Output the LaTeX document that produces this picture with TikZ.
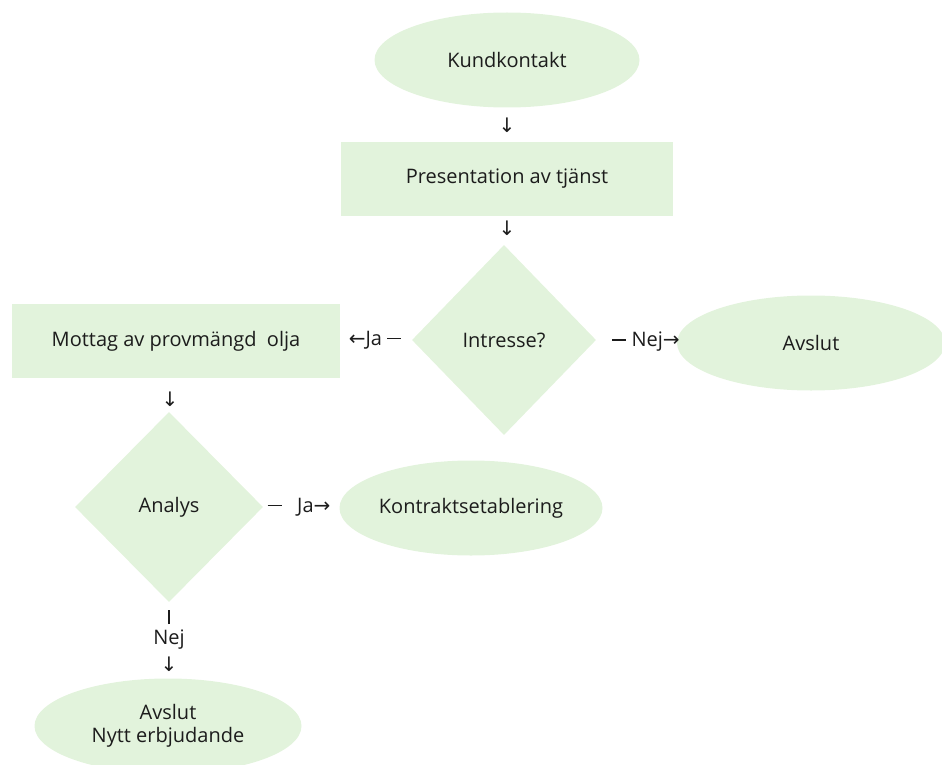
\documentclass[tikz,border=0pt]{standalone}
\usepackage{fontspec}
\setmainfont{Open Sans}
\newfontfamily\arrowfont{DejaVu Sans}
\usetikzlibrary{shapes.geometric,calc}
\definecolor{boxgreen}{HTML}{E2F3DC}
\definecolor{ink}{HTML}{1C1C1C}
\tikzset{
  base/.style={fill=boxgreen, draw=none, text=ink, inner sep=0pt, align=center,
               font=\fontsize{20}{23}\selectfont},
  terminal/.style={base, ellipse, minimum width=265pt, minimum height=95pt},
  process/.style={base, rectangle, minimum width=330pt, minimum height=74pt},
  decision/.style={base, diamond, aspect=1, minimum width=188pt, minimum height=190pt},
  flowlabel/.style={text=ink, inner sep=0pt, font=\fontsize{20}{23}\selectfont}
}
% arrow glyphs and a short dash for the text connectors
\newcommand{\arr}[1]{{\arrowfont\fontsize{20}{22}\selectfont #1}}
\newcommand{\dsh}{\rule[6.3pt]{14pt}{1.3pt}}
\begin{document}
\begin{tikzpicture}[x=1pt,y=-1pt]
  \useasboundingbox (0,0) rectangle (942,765);
  \begin{scope}
    \clip (0,0) rectangle (942,765);
    % shapes
    \node[terminal] (start) at (507,60) {Kundkontakt};
    \node[process, minimum width=332pt] (pres) at (507,179) {Presentation av tjänst};
    \node[decision, minimum width=184pt] (intr) at (504,340) {Intresse?};
    \node[process, minimum width=328pt] (mott) at (176,341) {Mottag av provmängd\ \ olja};
    \node[terminal, minimum width=268pt] (end1) at (811,343) {Avslut};
    \node[decision] (anal) at (169,507) {Analys};
    \node[terminal, minimum width=263pt] (kont) at (471,508) {Kontraktsetablering};
    \node[terminal, minimum width=267pt] (end2) at (168,726) {Avslut\\Nytt erbjudande};
  \end{scope}
  % text connectors between the shapes
  \node[flowlabel] (c1) at ($(start.south)!0.5!(pres.north)$) {\arr{↓}};
  \node[flowlabel] (c2) at (507,228) {\arr{↓}};
  \node[flowlabel] (c3) at (375,340) {\arr{←}Ja \dsh};
  \node[flowlabel] (c4) at (646,342) {\dsh\ Nej\arr{→}};
  \node[flowlabel] (c5) at (170,399) {\arr{↓}};
  \node[flowlabel] (c6) at (299,507) {\dsh\ \ \ Ja\arr{→}};
  \node[flowlabel] (c7) at (169,617) {\rule{1.3pt}{14pt}};
  \node[flowlabel] (c8) at (169,640) {Nej};
  \node[flowlabel] (c9) at (169,664) {\arr{↓}};
\end{tikzpicture}
\end{document}
